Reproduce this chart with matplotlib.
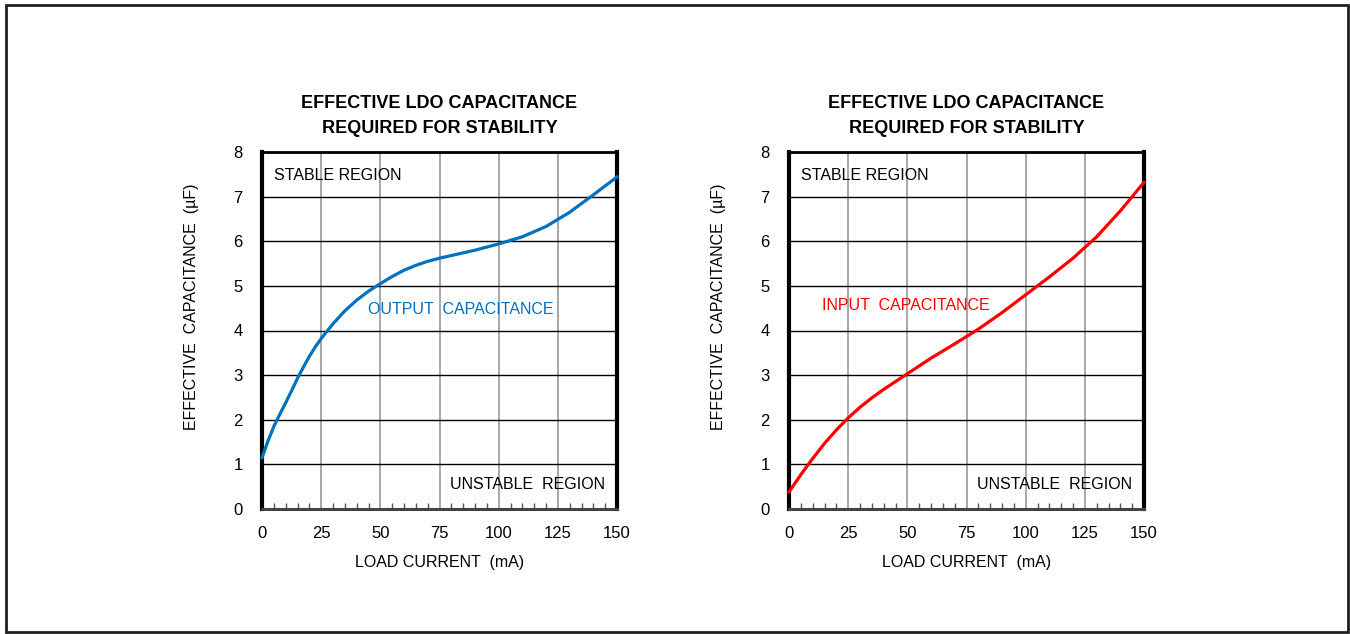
import matplotlib.pyplot as plt
from matplotlib.patches import Rectangle
from matplotlib import font_manager

# fonts: narrow Arial-like if available
names = {f.name for f in font_manager.fontManager.ttflist}
family = "Liberation Sans Narrow" if "Liberation Sans Narrow" in names else "Liberation Sans"
plt.rcParams["font.family"] = [family, "DejaVu Sans"]

# data
out_current = [0, 2.5, 5, 7.5, 10, 12.5, 15, 17.5, 20, 22.5, 25, 30, 35, 40, 45, 50,
               55, 60, 65, 70, 75, 80, 90, 100, 110, 120, 130, 140, 150]
out_cap = [1.15, 1.52, 1.85, 2.12, 2.38, 2.65, 2.93, 3.18, 3.42, 3.63, 3.82, 4.15,
           4.44, 4.68, 4.88, 5.05, 5.21, 5.35, 5.46, 5.55, 5.62, 5.68, 5.8, 5.94,
           6.1, 6.33, 6.65, 7.04, 7.44]

in_current = [0, 5, 10, 15, 20, 25, 30, 35, 40, 50, 60, 70, 80, 90, 100, 110, 120,
              130, 140, 150]
in_cap = [0.38, 0.77, 1.13, 1.47, 1.77, 2.04, 2.28, 2.49, 2.68, 3.03, 3.38, 3.7,
          4.03, 4.4, 4.8, 5.2, 5.62, 6.1, 6.68, 7.32]

x_ticks = [0, 25, 50, 75, 100, 125, 150]
y_ticks = [0, 1, 2, 3, 4, 5, 6, 7, 8]

title = "EFFECTIVE LDO CAPACITANCE\nREQUIRED FOR STABILITY"

fig = plt.figure(figsize=(13.5, 6.34), dpi=100)
fig.patches.append(Rectangle((6 / 1350, 2 / 634), 1342 / 1350, 627 / 634,
                             transform=fig.transFigure, fill=False,
                             edgecolor="#231f20", linewidth=2))


def panel(left, xs, ys, color, label, label_xy):
    ax = fig.add_axes([left / 1350, 1 - 509 / 634, 355 / 1350, 357 / 634])
    ax.plot(xs, ys, color=color, linewidth=2.3, zorder=3, clip_on=False)
    ax.set_xlim(0, 150)
    ax.set_ylim(0, 8)
    ax.set_xticks(x_ticks)
    ax.set_yticks(y_ticks)
    ax.set_xticks(range(0, 151, 5), minor=True)
    ax.tick_params(axis="x", which="major", length=0, pad=12, labelsize=12)
    ax.tick_params(axis="x", which="minor", direction="in", length=4,
                   color="#555555", width=1)
    ax.tick_params(axis="y", length=0, pad=14, labelsize=12)
    ax.grid(axis="x", color="#a0a0a0", linewidth=1.3)
    ax.grid(axis="y", color="black", linewidth=1)
    for side in ["left", "right"]:
        ax.spines[side].set_linewidth(3)
    ax.spines["top"].set_linewidth(2)
    ax.spines["bottom"].set_linewidth(2.2)
    ax.spines["bottom"].set_color("#444444")
    ax.set_xlabel("LOAD CURRENT  (mA)", fontsize=11.5, labelpad=10)
    ax.set_ylabel("EFFECTIVE  CAPACITANCE  (\u00b5F)", fontsize=11.5)
    ax.yaxis.set_label_coords(-0.177, 0.566)
    ax.set_title(title, fontsize=13, fontweight="bold", pad=14, linespacing=1.55)
    ax.text(0.034, 0.935, "STABLE REGION", transform=ax.transAxes, fontsize=11.5,
            va="center", ha="left")
    ax.text(0.965, 0.07, "UNSTABLE  REGION", transform=ax.transAxes, fontsize=11.5,
            va="center", ha="right")
    ax.text(label_xy[0], label_xy[1], label, color=color, fontsize=11.5,
            va="center", ha="left")
    return ax


panel(262, out_current, out_cap, "#0070c0", "OUTPUT  CAPACITANCE", (45, 4.46))
panel(789, in_current, in_cap, "#ff0000", "INPUT  CAPACITANCE", (14, 4.57))

fig.savefig("out.png", dpi=100)
